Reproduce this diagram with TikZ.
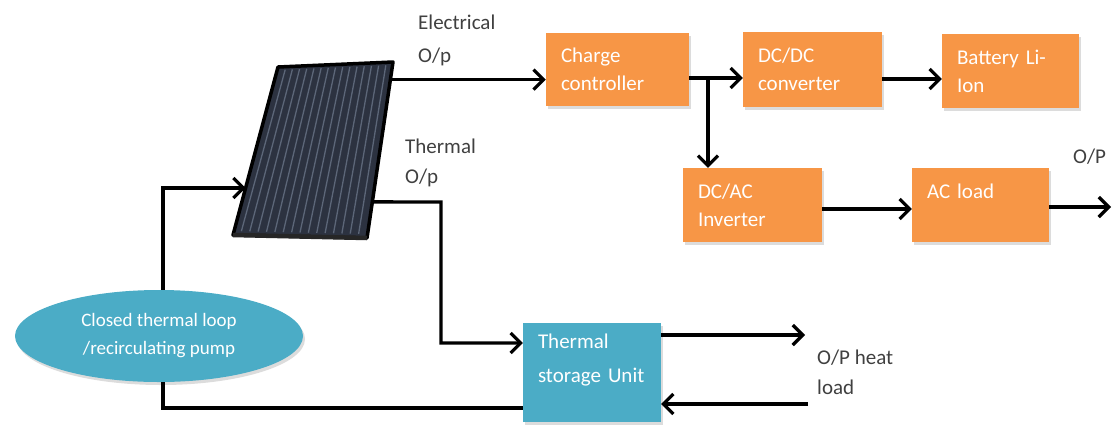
\documentclass[tikz,border=0pt]{standalone}
\usepackage{fontspec}
\setmainfont{Carlito}
\usetikzlibrary{arrows.meta}
\usetikzlibrary{calc}
\usetikzlibrary{shadows}
\usetikzlibrary{shapes.geometric}

\definecolor{boxorange}{RGB}{247,150,70}
\definecolor{boxteal}{RGB}{75,172,198}
\definecolor{panelfill}{RGB}{44,50,64}
\definecolor{panelstripe}{RGB}{92,102,120}
\definecolor{labelgrey}{RGB}{64,64,64}

\tikzset{
  flow/.style={line width=3.4pt, -{Straight Barb[length=10pt,width=20pt,line width=3.2pt]}},
  pipe/.style={line width=3.4pt},
  blockbox/.style={rectangle, fill=#1, text=white, align=left, inner xsep=15pt,
    font=\fontsize{21}{28}\selectfont,
    drop shadow={shadow xshift=2pt, shadow yshift=-3pt, fill=black!30, opacity=0.45}},
  lbl/.style={anchor=west, inner sep=0pt, text=labelgrey, font=\fontsize{21}{28}\selectfont},
}

\begin{document}
\begin{tikzpicture}[x=1pt,y=1pt,yscale=-1,xscale=1]
\path[use as bounding box] (0,0) rectangle (1113,429);

%Shape: Solar panel corners
\coordinate (TL) at (278,67);
\coordinate (TR) at (393,62);
\coordinate (BR) at (367,238);
\coordinate (BL) at (233,235);
%Shape: Solar panel
\draw[line width=3.5pt, fill=panelfill, line join=round] (TL) -- (TR) -- (BR) -- (BL) -- cycle;
\foreach \i in {1,...,15}
  \draw[panelstripe, line width=1.3pt] ($(TL)!\i/16!(TR)+(0,3)$) -- ($(BL)!\i/16!(BR)+(0,-4)$);
\draw[black!85, line width=4.5pt] (BL) -- (BR);

%Panel ports
\coordinate (elecout) at ($(TR)!0.10!(BR)$);
\coordinate (thermout) at ($(TR)!0.795!(BR)$);
\coordinate (panelin) at ($(TL)!0.72!(BL)$);

%Electrical chain
\node[blockbox=boxorange, text width=113pt, minimum height=73pt] (charge) at (617.5,69.5) {Charge\\controller};
\node[blockbox=boxorange, text width=109pt, minimum height=75pt] (dcdc) at (812.5,69.5) {DC/DC\\converter};
\node[blockbox=boxorange, text width=107pt, minimum height=74pt] (battery) at (1010.5,71) {Battery Li-\\Ion};
\node[blockbox=boxorange, text width=109pt, minimum height=74pt] (dcac) at (752.5,205) {DC/AC\\Inverter};
\node[blockbox=boxorange, text width=107pt, minimum height=74pt] (acload) at (980.5,205) {AC load\\~};

%Thermal side
\node[blockbox=boxteal, text width=108pt, minimum height=99pt] (storage) at (592,372.5) {Thermal\\[6pt]storage Unit\\~};
\node[ellipse, fill=boxteal, text=white, minimum width=288pt, minimum height=92pt, inner sep=0pt,
  align=center, font=\fontsize{19}{28}\selectfont,
  drop shadow={shadow xshift=2pt, shadow yshift=-3pt, fill=black!30, opacity=0.45}] (loop) at (159,336)
  {Closed thermal loop\\/recirculating pump};

%Helper points
\coordinate (split) at (708,78);
\coordinate (thermdown) at (441,202);
\coordinate (acout) at (1111,207);
\coordinate (heatout) at (805,335);
\coordinate (heatin) at (808,404);
\coordinate (loopcorner) at (163,408);

%Connectors
\draw[flow] (elecout) -- (elecout -| charge.west);
\draw[flow] (charge.east |- split) -- (dcdc.west |- split);
\draw[flow] (split) -- (dcac.north -| split);
\draw[flow] (dcdc.east |- 0,79) -- (battery.west |- 0,79);
\draw[flow] (dcac.east |- 0,209) -- (acload.west |- 0,209);
\draw[flow] (acload.east |- acout) -- (acout);
\draw[flow] (thermout) -- (thermdown) |- (storage.west |- 0,343);
\draw[flow] (storage.east |- heatout) -- (heatout);
\draw[flow] (heatin) -- (storage.east |- heatin);
\draw[pipe] (storage.west |- loopcorner) -- (loopcorner) -- (loopcorner |- loop.south);
\draw[flow] (loopcorner |- loop.north) |- (panelin);

% Text Node
\node[lbl] (eleclbl) at (418,22) {Electrical};
\node[lbl] (eleclbl2) at (418,57) {O/p};
\node[lbl] (thermlbl) at (405,146) {Thermal};
\node[lbl] (thermlbl2) at (405,178) {O/p};
\node[lbl] (aclbl) at (1073,157) {O/P};
\node[lbl] (heatlbl) at (817,358) {O/P heat};
\node[lbl] (heatlbl2) at (817,387) {load};

\end{tikzpicture}
\end{document}
